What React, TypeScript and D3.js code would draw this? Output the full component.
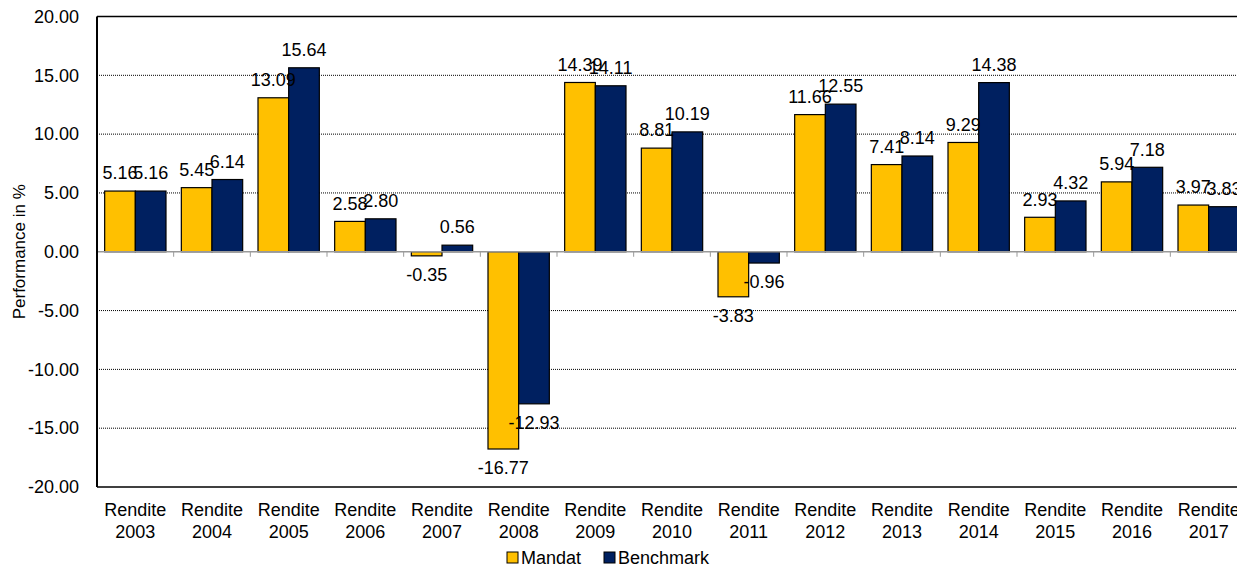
import React, { useEffect, useRef } from "react";
import * as d3 from "d3";

const categories = ["2003", "2004", "2005", "2006", "2007", "2008", "2009", "2010", "2011", "2012", "2013", "2014", "2015", "2016", "2017"];
const mandat = [5.16, 5.45, 13.09, 2.58, -0.35, -16.77, 14.39, 8.81, -3.83, 11.66, 7.41, 9.29, 2.93, 5.94, 3.97];
const benchmark = [5.16, 6.14, 15.64, 2.8, 0.56, -12.93, 14.11, 10.19, -0.96, 12.55, 8.14, 14.38, 4.32, 7.18, 3.83];
const seriesNames = ["Mandat", "Benchmark"];
const seriesColors = ["#FFC000", "#002060"];
const yTicks = [-20, -15, -10, -5, 0, 5, 10, 15, 20];

const W = 1237;
const H = 568;
const FONT = "'Liberation Sans', Arial, sans-serif";
const FS = 18;

export default function App() {
  const svgRef = useRef<SVGSVGElement>(null);

  useEffect(() => {
    if (!svgRef.current) return;
    const svg = d3.select(svgRef.current);
    svg.selectAll("*").remove();

    const left = 97;
    const right = 1247;
    const top = 16.5;
    const bottom = 487;

    const x = d3.scaleBand<string>().domain(categories).range([left, right]).paddingInner(0).paddingOuter(0);
    const x1 = d3.scaleBand<number>().domain([0, 1]).range([0, x.bandwidth()]).paddingInner(0).paddingOuter(0.25);
    const y = d3.scaleLinear().domain([-20, 20]).range([bottom, top]);

    // dotted gridlines
    svg.append("g")
      .selectAll("line")
      .data(yTicks.filter((t) => t !== 0 && t !== -20 && t !== 20))
      .enter()
      .append("line")
      .attr("x1", left)
      .attr("x2", right)
      .attr("y1", (d) => y(d))
      .attr("y2", (d) => y(d))
      .attr("stroke", "#000")
      .attr("stroke-width", 1)
      .attr("stroke-dasharray", "1,1");

    // top + bottom borders
    svg.append("line").attr("x1", left).attr("x2", right).attr("y1", y(20)).attr("y2", y(20)).attr("stroke", "#000").attr("stroke-width", 1.5);
    svg.append("line").attr("x1", left).attr("x2", right).attr("y1", y(-20)).attr("y2", y(-20)).attr("stroke", "#000").attr("stroke-width", 1.5);

    // bars
    const series = [mandat, benchmark];
    series.forEach((vals, si) => {
      svg.append("g")
        .selectAll("rect")
        .data(vals)
        .enter()
        .append("rect")
        .attr("x", (_, i) => (x(categories[i]) as number) + (x1(si) as number))
        .attr("width", x1.bandwidth())
        .attr("y", (d) => y(Math.max(0, d)))
        .attr("height", (d) => Math.abs(y(d) - y(0)))
        .attr("fill", seriesColors[si])
        .attr("stroke", "#000")
        .attr("stroke-width", 1.2);
    });

    // zero axis with category ticks
    svg.append("line").attr("x1", left).attr("x2", right).attr("y1", y(0)).attr("y2", y(0)).attr("stroke", "#999").attr("stroke-width", 1.5);
    svg.append("g")
      .selectAll("line")
      .data(categories.slice(1))
      .enter()
      .append("line")
      .attr("x1", (d) => x(d) as number)
      .attr("x2", (d) => x(d) as number)
      .attr("y1", y(0))
      .attr("y2", y(0) + 5)
      .attr("stroke", "#999")
      .attr("stroke-width", 1);

    // y axis line
    svg.append("line").attr("x1", left).attr("x2", left).attr("y1", y(20)).attr("y2", y(-20)).attr("stroke", "#000").attr("stroke-width", 2);

    // value labels
    series.forEach((vals, si) => {
      svg.append("g")
        .selectAll("text")
        .data(vals)
        .enter()
        .append("text")
        .attr("x", (_, i) => (x(categories[i]) as number) + (x1(si) as number) + x1.bandwidth() / 2)
        .attr("y", (d) => (d >= 0 ? y(d) - 18 : y(d) + 19))
        .attr("dy", "0.35em")
        .attr("text-anchor", "middle")
        .attr("font-family", FONT)
        .attr("font-size", FS)
        .attr("fill", "#000")
        .text((d) => d.toFixed(2));
    });

    // y tick labels
    svg.append("g")
      .selectAll("text")
      .data(yTicks)
      .enter()
      .append("text")
      .attr("x", 79)
      .attr("y", (d) => y(d))
      .attr("dy", "0.35em")
      .attr("text-anchor", "end")
      .attr("font-family", FONT)
      .attr("font-size", FS)
      .attr("fill", "#000")
      .text((d) => d.toFixed(2));

    // y axis title
    svg.append("text")
      .attr("transform", `translate(25,${y(0)}) rotate(-90)`)
      .attr("text-anchor", "middle")
      .attr("font-family", FONT)
      .attr("font-size", 17)
      .attr("fill", "#000")
      .text("Performance in %");

    // category labels
    const cat = svg.append("g")
      .selectAll("text")
      .data(categories)
      .enter()
      .append("text")
      .attr("text-anchor", "middle")
      .attr("font-family", FONT)
      .attr("font-size", FS)
      .attr("fill", "#000");
    cat.append("tspan").attr("x", (d) => (x(d) as number) + x.bandwidth() / 2).attr("y", 516).text("Rendite");
    cat.append("tspan").attr("x", (d) => (x(d) as number) + x.bandwidth() / 2).attr("y", 538).text((d) => d);

    // legend
    const legendX = [507, 604];
    seriesNames.forEach((name, i) => {
      svg.append("rect")
        .attr("x", legendX[i])
        .attr("y", 552)
        .attr("width", 11)
        .attr("height", 11)
        .attr("fill", seriesColors[i])
        .attr("stroke", "#000")
        .attr("stroke-width", 1);
      svg.append("text")
        .attr("x", legendX[i] + 14)
        .attr("y", 564)
        .attr("font-family", FONT)
        .attr("font-size", FS)
        .attr("fill", "#000")
        .text(name);
    });
  }, []);

  return (
    <div style={{ position: "fixed", left: 0, top: 0, width: W, height: H, overflow: "hidden", background: "#fff" }}>
      <svg ref={svgRef} width={W} height={H} style={{ display: "block" }} />
    </div>
  );
}
